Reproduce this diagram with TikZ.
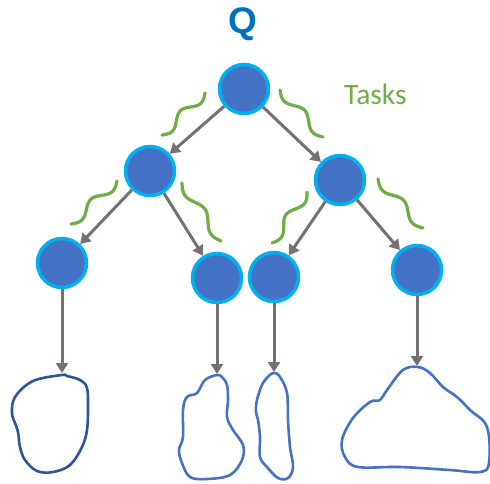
\documentclass[tikz,border=0pt]{standalone}
\usepackage{fontspec}
\setmainfont{Carlito}
\newfontfamily\qfont{Liberation Sans}
\usetikzlibrary{arrows.meta}
\definecolor{nfill}{HTML}{4472C4}
\definecolor{nborder}{HTML}{00B0F0}
\definecolor{arrgray}{HTML}{767171}
\definecolor{taskgreen}{HTML}{70AD47}
\definecolor{qblue}{HTML}{0070C0}
\definecolor{blobdark}{HTML}{2F5597}
\tikzset{
  tasknode/.style={circle, fill=nfill, draw=nborder, line width=3.5pt, minimum size=49pt, inner sep=0pt},
  arr/.style={draw=arrgray, line width=3pt, -{Triangle[length=10pt,width=12pt]}, shorten >=0pt},
  squig/.style={draw=taskgreen, line width=3.2pt, line cap=round},
  blob/.style={draw=nfill, line width=2.6pt},
}
% squiggle from (#1,#2) to (#3,#4), signed amplitude #5
\newcommand\mysquig[5]{%
  \draw[squig] plot[domain=0:1, samples=50, smooth, variable=\t]
    ({#1+\t*(#3-#1)+#5*sin(540*\t)*(#4-#2)/veclen(#3-#1,#4-#2)},
     {#2+\t*(#4-#2)-#5*sin(540*\t)*(#3-#1)/veclen(#3-#1,#4-#2)});}
\begin{document}
\begin{tikzpicture}[x=1pt, y=-1pt]
\useasboundingbox (0,0) rectangle (490,483);
% title and label
\node[anchor=base, text=qblue, font=\qfont\bfseries\fontsize{37}{40}\selectfont, inner sep=0pt] (q) at (243,33) {Q};
\node[anchor=base west, text=taskgreen, font=\fontsize{29.5}{32}\selectfont, inner sep=0pt] (tasks) at (344,104) {Tasks};
% tree nodes
\node[tasknode] (r) at (244,89) {};
\node[tasknode] (l) at (150,171) {};
\node[tasknode] (rr) at (340,180) {};
\node[tasknode] (a) at (62,263) {};
\node[tasknode] (b) at (217,278) {};
\node[tasknode] (c) at (274,277) {};
\node[tasknode] (d) at (417,270) {};
% blob tops
\coordinate (ta) at (62,373);
\coordinate (tb) at (217,374);
\coordinate (tc) at (274,372);
\coordinate (td) at (417,366);
% arrows
\draw[arr] (r) -- (l);
\draw[arr] (r) -- (rr);
\draw[arr] (l) -- (a);
\draw[arr] (l) -- (b);
\draw[arr] (rr) -- (c);
\draw[arr] (rr) -- (d);
\draw[arr] (a) -- (ta);
\draw[arr] (b) -- (tb);
\draw[arr] (c) -- (tc);
\draw[arr] (d) -- (td);
% squiggles
\mysquig{205}{93}{162}{135}{4.5}
\mysquig{280}{90}{323}{137}{-4.5}
\mysquig{117}{181}{71}{224}{4.5}
\mysquig{182}{183}{221}{241}{-4.5}
\mysquig{307}{192}{272}{243}{4.5}
\mysquig{378}{179}{423}{228}{-4.5}
% blobs
\draw[blob, draw=blobdark] plot[smooth cycle, tension=0.6] coordinates {
 (62,375) (33,381) (15,397) (12,413) (15,423) (18,432) (20,447) (25,460)
 (37,471) (53,472) (70,465) (82,447) (87,430) (88,407) (87,388) (80,380) (67,376)};
\draw[blob] plot[smooth cycle, tension=0.6] coordinates {
 (217,375) (205,380) (197,393) (187,397) (183,410) (183,437) (179,450) (182,463)
 (190,477) (207,479) (230,475) (242,460) (243,445) (233,430) (227,417) (228,400) (227,385) (222,377)};
\draw[blob] plot[smooth cycle, tension=0.6] coordinates {
 (273,373) (263,383) (257,400) (256,412) (258,420) (260,437) (260,457) (267,467)
 (278,478) (288,478) (293,467) (290,447) (288,420) (287,393) (280,377)};
\draw[blob] plot[smooth cycle, tension=0.6] coordinates {
 (418,367) (403,370) (387,390) (380,400) (370,402) (353,418) (342,440) (345,457)
 (358,467) (400,467) (450,470) (480,472) (489,463) (487,427) (470,410) (457,397) (443,387) (430,373)};
\end{tikzpicture}
\end{document}
